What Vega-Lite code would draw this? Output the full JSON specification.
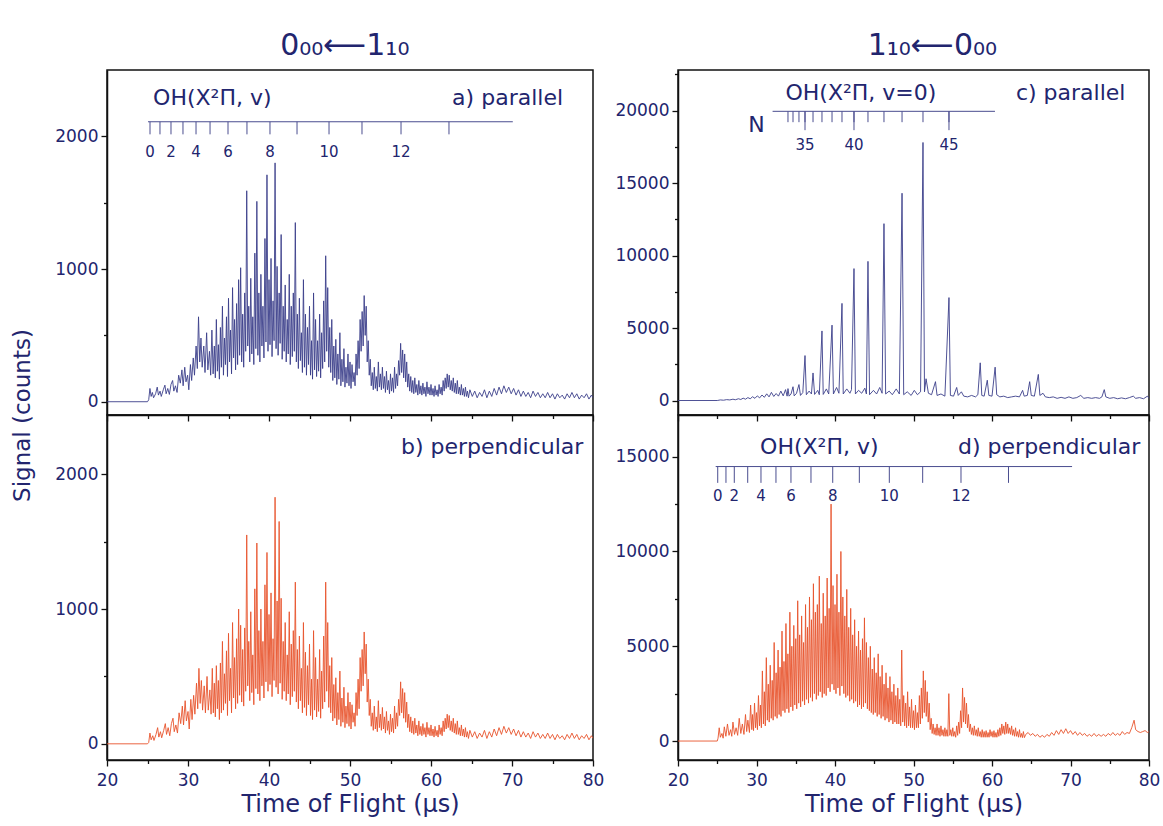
{
"$schema": "https://vega.github.io/schema/vega-lite/v6.json",
"padding": {"left": 10, "top": 31, "right": 4, "bottom": 2},
"background": "white",
"config": {
  "font": "DejaVu Sans",
  "view": {"stroke": "#111", "strokeWidth": 1.5},
  "axis": {"domainColor": "#111", "domainWidth": 1.5, "tickColor": "#111", "tickWidth": 1.3, "tickSize": 6, "labelColor": "#22256e", "titleColor": "#22256e", "labelFont": "DejaVu Sans", "titleFont": "DejaVu Sans", "labelFontSize": 17, "titleFontSize": 24, "titleFontWeight": "normal", "grid": false, "labelPadding": 3, "labelFlush": false},
  "text": {"font": "DejaVu Sans", "color": "#22256e"},
  "title": {"font": "DejaVu Sans", "color": "#22256e", "fontSize": 30, "fontWeight": "normal", "anchor": "middle", "offset": 8}
},
"datasets": {
"a": [{"t":20,"s":0},{"t":25,"s":0},{"t":25.15,"s":15},{"t":25.3,"s":100},{"t":25.45,"s":40},{"t":25.6,"s":70},{"t":25.75,"s":30},{"t":26,"s":60},{"t":26.2,"s":110},{"t":26.35,"s":50},{"t":26.55,"s":80},{"t":26.7,"s":40},{"t":26.95,"s":90},{"t":27.15,"s":125},{"t":27.3,"s":60},{"t":27.5,"s":100},{"t":27.7,"s":55},{"t":27.9,"s":130},{"t":28.1,"s":160},{"t":28.25,"s":80},{"t":28.45,"s":120},{"t":28.65,"s":70},{"t":28.85,"s":200},{"t":29.05,"s":140},{"t":29.25,"s":240},{"t":29.4,"s":120},{"t":29.6,"s":260},{"t":29.75,"s":150},{"t":29.95,"s":200},{"t":30.1,"s":90},{"t":30.3,"s":280},{"t":30.45,"s":160},{"t":30.65,"s":330},{"t":30.8,"s":200},{"t":31,"s":420},{"t":31.15,"s":250},{"t":31.3,"s":640},{"t":31.45,"s":300},{"t":31.6,"s":480},{"t":31.75,"s":260},{"t":31.95,"s":420},{"t":32.1,"s":220},{"t":32.3,"s":520},{"t":32.45,"s":240},{"t":32.65,"s":380},{"t":32.8,"s":200},{"t":32.95,"s":540},{"t":33.1,"s":210},
{"t":33.25,"s":420},{"t":33.375,"s":180},{"t":33.5,"s":620},{"t":33.625,"s":230},{"t":33.75,"s":430},{"t":33.875,"s":170},{"t":34,"s":560},{"t":34.125,"s":260},{"t":34.25,"s":720},{"t":34.375,"s":200},{"t":34.5,"s":480},{"t":34.625,"s":280},{"t":34.75,"s":640},{"t":34.875,"s":190},{"t":35,"s":780},{"t":35.125,"s":300},{"t":35.25,"s":540},{"t":35.375,"s":210},{"t":35.5,"s":860},{"t":35.625,"s":330},{"t":35.75,"s":620},{"t":35.875,"s":240},{"t":36,"s":740},{"t":36.125,"s":280},{"t":36.25,"s":920},{"t":36.375,"s":350},{"t":36.5,"s":1010},{"t":36.625,"s":300},{"t":36.75,"s":660},{"t":36.875,"s":260},{"t":37,"s":820},{"t":37.125,"s":380},{"t":37.25,"s":1590},{"t":37.375,"s":420},{"t":37.5,"s":720},{"t":37.625,"s":300},{"t":37.75,"s":930},{"t":37.875,"s":360},{"t":38,"s":640},{"t":38.125,"s":280},{"t":38.25,"s":1120},{"t":38.375,"s":400},{"t":38.5,"s":1510},{"t":38.625,"s":350},{"t":38.75,"s":820},{"t":38.875,"s":300},{"t":39,"s":960},{"t":39.125,"s":420},{"t":39.25,"s":720},{"t":39.375,"s":330},{"t":39.5,"s":1230},{"t":39.625,"s":450},{"t":39.75,"s":1710},{"t":39.875,"s":380},{"t":40,"s":920},{"t":40.125,"s":430},{"t":40.25,"s":1080},{"t":40.375,"s":340},{"t":40.5,"s":760},{"t":40.625,"s":460},{"t":40.75,"s":1800},{"t":40.875,"s":400},{"t":41,"s":1020},{"t":41.125,"s":350},{"t":41.25,"s":820},{"t":41.375,"s":440},{"t":41.5,"s":1260},{"t":41.625,"s":320},{"t":41.75,"s":720},{"t":41.875,"s":380},{"t":42,"s":880},{"t":42.125,"s":300},{"t":42.25,"s":620},{"t":42.375,"s":360},{"t":42.5,"s":960},{"t":42.625,"s":280},{"t":42.75,"s":720},{"t":42.875,"s":340},{"t":43,"s":820},{"t":43.125,"s":380},{"t":43.25,"s":1350},{"t":43.375,"s":300},{"t":43.5,"s":660},{"t":43.625,"s":250},{"t":43.75,"s":780},{"t":43.875,"s":310},{"t":44,"s":520},{"t":44.125,"s":220},{"t":44.25,"s":920},{"t":44.375,"s":260},{"t":44.5,"s":660},{"t":44.625,"s":200},{"t":44.75,"s":560},{"t":44.875,"s":280},{"t":45,"s":720},{"t":45.125,"s":200},{"t":45.25,"s":460},{"t":45.375,"s":170},{"t":45.5,"s":820},{"t":45.625,"s":240},{"t":45.75,"s":620},{"t":45.875,"s":190},{"t":46,"s":460},{"t":46.125,"s":230},{"t":46.25,"s":660},{"t":46.375,"s":180},{"t":46.5,"s":520},{"t":46.625,"s":250},{"t":46.75,"s":760},{"t":46.875,"s":300},{"t":47,"s":1100},{"t":47.125,"s":380},{"t":47.25,"s":860},{"t":47.375,"s":260},{"t":47.5,"s":560},{"t":47.625,"s":220},{"t":47.75,"s":620},{"t":47.875,"s":160},{"t":48,"s":420},{"t":48.125,"s":180},{"t":48.25,"s":470},{"t":48.375,"s":130},{"t":48.5,"s":360},{"t":48.625,"s":170},{"t":48.75,"s":520},{"t":48.875,"s":120},{"t":49,"s":320},{"t":49.125,"s":150},{"t":49.25,"s":400},{"t":49.375,"s":110},{"t":49.5,"s":260},{"t":49.625,"s":140},{"t":49.75,"s":360},{"t":49.875,"s":120},{"t":50,"s":300},{"t":50.125,"s":100},{"t":50.25,"s":280},{"t":50.375,"s":150},{"t":50.5,"s":220},{"t":50.625,"s":120},{"t":50.75,"s":360},{"t":50.875,"s":200},{"t":51,"s":460},{"t":51.125,"s":250},{"t":51.25,"s":620},{"t":51.375,"s":380},{"t":51.5,"s":680},{"t":51.625,"s":420},{"t":51.75,"s":800},{"t":51.875,"s":500},{"t":52,"s":720},{"t":52.125,"s":300},{"t":52.25,"s":460},{"t":52.375,"s":200},{"t":52.5,"s":320},{"t":52.625,"s":120},{"t":52.75,"s":220},{"t":52.875,"s":90},{"t":53,"s":260},{"t":53.125,"s":100},{"t":53.25,"s":190},{"t":53.375,"s":80},{"t":53.5,"s":300},{"t":53.625,"s":110},{"t":53.75,"s":210},{"t":53.875,"s":90},{"t":54,"s":260},{"t":54.125,"s":100},{"t":54.25,"s":190},{"t":54.375,"s":70},{"t":54.5,"s":230},{"t":54.625,"s":90},{"t":54.75,"s":160},{"t":54.875,"s":60},{"t":55,"s":210},{"t":55.125,"s":80},{"t":55.25,"s":180},{"t":55.375,"s":70},{"t":55.5,"s":260},{"t":55.625,"s":100},{"t":55.75,"s":210},{"t":55.875,"s":120},{"t":56,"s":310},{"t":56.125,"s":200},{"t":56.25,"s":440},{"t":56.375,"s":220},{"t":56.5,"s":390},{"t":56.625,"s":180},{"t":56.75,"s":360},{"t":56.875,"s":150},{"t":57,"s":300},{"t":57.125,"s":110},{"t":57.25,"s":210},{"t":57.375,"s":80},{"t":57.5,"s":190},{"t":57.625,"s":70},{"t":57.75,"s":160},{"t":57.875,"s":60},{"t":58,"s":180},{"t":58.125,"s":70},{"t":58.25,"s":130},{"t":58.375,"s":50},{"t":58.5,"s":160},{"t":58.625,"s":60},{"t":58.75,"s":120},{"t":58.875,"s":50},{"t":59,"s":140},{"t":59.125,"s":60},{"t":59.25,"s":110},{"t":59.375,"s":40},{"t":59.5,"s":150},{"t":59.625,"s":60},{"t":59.75,"s":110},{"t":59.875,"s":50},{"t":60,"s":130},{"t":60.125,"s":50},{"t":60.25,"s":100},{"t":60.375,"s":40},{"t":60.5,"s":120},{"t":60.625,"s":50},{"t":60.75,"s":90},{"t":60.875,"s":40},{"t":61,"s":130},{"t":61.125,"s":60},{"t":61.25,"s":110},{"t":61.375,"s":50},{"t":61.5,"s":160},{"t":61.625,"s":80},{"t":61.75,"s":180},{"t":61.875,"s":100},{"t":62,"s":210},{"t":62.125,"s":110},{"t":62.25,"s":200},{"t":62.375,"s":90},{"t":62.5,"s":160},{"t":62.625,"s":80},{"t":62.75,"s":180},{"t":62.875,"s":70},{"t":63,"s":140},{"t":63.125,"s":60},{"t":63.25,"s":160},{"t":63.375,"s":60},{"t":63.5,"s":110},{"t":63.625,"s":50},{"t":63.75,"s":130},{"t":63.875,"s":50},{"t":64,"s":100},{"t":64.125,"s":40},{"t":64.25,"s":110},{"t":64.375,"s":40},{"t":64.5,"s":80},{"t":64.625,"s":30},
{"t":64.8,"s":90},{"t":65.1,"s":40},{"t":65.4,"s":80},{"t":65.7,"s":30},{"t":66,"s":70},{"t":66.3,"s":40},{"t":66.6,"s":90},{"t":66.9,"s":30},{"t":67.2,"s":80},{"t":67.5,"s":40},{"t":67.8,"s":100},{"t":68.1,"s":50},{"t":68.4,"s":110},{"t":68.7,"s":60},{"t":69,"s":120},{"t":69.3,"s":70},{"t":69.6,"s":110},{"t":69.9,"s":60},{"t":70.2,"s":100},{"t":70.5,"s":50},{"t":70.8,"s":90},{"t":71.1,"s":40},{"t":71.4,"s":80},{"t":71.7,"s":40},{"t":72,"s":70},{"t":72.3,"s":30},{"t":72.6,"s":80},{"t":72.9,"s":40},{"t":73.2,"s":70},{"t":73.5,"s":30},{"t":73.8,"s":60},{"t":74.1,"s":30},{"t":74.4,"s":70},{"t":74.7,"s":30},{"t":75,"s":60},{"t":75.3,"s":20},{"t":75.6,"s":60},{"t":75.9,"s":30},{"t":76.2,"s":50},{"t":76.5,"s":20},{"t":76.8,"s":60},{"t":77.1,"s":30},{"t":77.4,"s":70},{"t":77.7,"s":30},{"t":78,"s":60},{"t":78.3,"s":20},{"t":78.6,"s":50},{"t":78.9,"s":30},{"t":79.2,"s":60},{"t":79.5,"s":20},{"t":79.8,"s":50},{"t":80,"s":30}],
"b": [{"t":20,"s":0},{"t":25,"s":0},{"t":25.15,"s":10},{"t":25.3,"s":80},{"t":25.45,"s":30},{"t":25.65,"s":60},{"t":25.8,"s":25},{"t":26.05,"s":70},{"t":26.25,"s":120},{"t":26.4,"s":50},{"t":26.6,"s":90},{"t":26.75,"s":45},{"t":27,"s":100},{"t":27.2,"s":150},{"t":27.35,"s":70},{"t":27.55,"s":120},{"t":27.75,"s":60},{"t":27.95,"s":150},{"t":28.15,"s":190},{"t":28.3,"s":90},{"t":28.5,"s":140},{"t":28.7,"s":80},{"t":28.9,"s":230},{"t":29.1,"s":150},{"t":29.3,"s":280},{"t":29.45,"s":140},{"t":29.65,"s":320},{"t":29.8,"s":170},{"t":30,"s":240},{"t":30.15,"s":110},{"t":30.35,"s":330},{"t":30.5,"s":180},{"t":30.7,"s":360},{"t":30.85,"s":220},{"t":31.05,"s":450},{"t":31.2,"s":260},{"t":31.35,"s":560},{"t":31.5,"s":300},{"t":31.65,"s":470},{"t":31.8,"s":250},{"t":32,"s":430},{"t":32.15,"s":230},{"t":32.35,"s":500},{"t":32.5,"s":250},{"t":32.7,"s":400},{"t":32.85,"s":220},{"t":33,"s":560},{"t":33.125,"s":230},
{"t":33.25,"s":450},{"t":33.375,"s":200},{"t":33.5,"s":580},{"t":33.625,"s":260},{"t":33.75,"s":470},{"t":33.875,"s":180},{"t":34,"s":600},{"t":34.125,"s":230},{"t":34.25,"s":760},{"t":34.375,"s":250},{"t":34.5,"s":520},{"t":34.625,"s":300},{"t":34.75,"s":690},{"t":34.875,"s":210},{"t":35,"s":820},{"t":35.125,"s":320},{"t":35.25,"s":560},{"t":35.375,"s":230},{"t":35.5,"s":900},{"t":35.625,"s":340},{"t":35.75,"s":640},{"t":35.875,"s":260},{"t":36,"s":780},{"t":36.125,"s":300},{"t":36.25,"s":1000},{"t":36.375,"s":360},{"t":36.5,"s":880},{"t":36.625,"s":310},{"t":36.75,"s":700},{"t":36.875,"s":280},{"t":37,"s":860},{"t":37.125,"s":390},{"t":37.25,"s":1550},{"t":37.375,"s":430},{"t":37.5,"s":760},{"t":37.625,"s":320},{"t":37.75,"s":980},{"t":37.875,"s":380},{"t":38,"s":660},{"t":38.125,"s":290},{"t":38.25,"s":1150},{"t":38.375,"s":410},{"t":38.5,"s":1490},{"t":38.625,"s":370},{"t":38.75,"s":840},{"t":38.875,"s":320},{"t":39,"s":1000},{"t":39.125,"s":430},{"t":39.25,"s":760},{"t":39.375,"s":340},{"t":39.5,"s":1180},{"t":39.625,"s":460},{"t":39.75,"s":1420},{"t":39.875,"s":390},{"t":40,"s":960},{"t":40.125,"s":440},{"t":40.25,"s":1120},{"t":40.375,"s":350},{"t":40.5,"s":780},{"t":40.625,"s":470},{"t":40.75,"s":1830},{"t":40.875,"s":420},{"t":41,"s":1060},{"t":41.125,"s":370},{"t":41.25,"s":1650},{"t":41.375,"s":450},{"t":41.5,"s":1080},{"t":41.625,"s":330},{"t":41.75,"s":760},{"t":41.875,"s":390},{"t":42,"s":900},{"t":42.125,"s":320},{"t":42.25,"s":660},{"t":42.375,"s":370},{"t":42.5,"s":980},{"t":42.625,"s":290},{"t":42.75,"s":740},{"t":42.875,"s":350},{"t":43,"s":840},{"t":43.125,"s":390},{"t":43.25,"s":1200},{"t":43.375,"s":310},{"t":43.5,"s":700},{"t":43.625,"s":260},{"t":43.75,"s":800},{"t":43.875,"s":320},{"t":44,"s":560},{"t":44.125,"s":230},{"t":44.25,"s":900},{"t":44.375,"s":270},{"t":44.5,"s":680},{"t":44.625,"s":210},{"t":44.75,"s":580},{"t":44.875,"s":290},{"t":45,"s":740},{"t":45.125,"s":210},{"t":45.25,"s":480},{"t":45.375,"s":180},{"t":45.5,"s":840},{"t":45.625,"s":250},{"t":45.75,"s":640},{"t":45.875,"s":200},{"t":46,"s":480},{"t":46.125,"s":240},{"t":46.25,"s":700},{"t":46.375,"s":190},{"t":46.5,"s":540},{"t":46.625,"s":260},{"t":46.75,"s":800},{"t":46.875,"s":310},{"t":47,"s":1200},{"t":47.125,"s":390},{"t":47.25,"s":900},{"t":47.375,"s":270},{"t":47.5,"s":580},{"t":47.625,"s":230},{"t":47.75,"s":640},{"t":47.875,"s":170},{"t":48,"s":440},{"t":48.125,"s":190},{"t":48.25,"s":490},{"t":48.375,"s":140},{"t":48.5,"s":380},{"t":48.625,"s":180},{"t":48.75,"s":540},{"t":48.875,"s":130},{"t":49,"s":340},{"t":49.125,"s":160},{"t":49.25,"s":420},{"t":49.375,"s":120},{"t":49.5,"s":280},{"t":49.625,"s":150},{"t":49.75,"s":380},{"t":49.875,"s":130},{"t":50,"s":310},{"t":50.125,"s":110},{"t":50.25,"s":290},{"t":50.375,"s":160},{"t":50.5,"s":230},{"t":50.625,"s":130},{"t":50.75,"s":380},{"t":50.875,"s":210},{"t":51,"s":480},{"t":51.125,"s":260},{"t":51.25,"s":640},{"t":51.375,"s":390},{"t":51.5,"s":700},{"t":51.625,"s":430},{"t":51.75,"s":830},{"t":51.875,"s":520},{"t":52,"s":740},{"t":52.125,"s":310},{"t":52.25,"s":480},{"t":52.375,"s":210},{"t":52.5,"s":330},{"t":52.625,"s":130},{"t":52.75,"s":230},{"t":52.875,"s":100},{"t":53,"s":280},{"t":53.125,"s":110},{"t":53.25,"s":200},{"t":53.375,"s":90},{"t":53.5,"s":320},{"t":53.625,"s":120},{"t":53.75,"s":220},{"t":53.875,"s":100},{"t":54,"s":270},{"t":54.125,"s":110},{"t":54.25,"s":200},{"t":54.375,"s":80},{"t":54.5,"s":240},{"t":54.625,"s":100},{"t":54.75,"s":170},{"t":54.875,"s":70},{"t":55,"s":220},{"t":55.125,"s":90},{"t":55.25,"s":190},{"t":55.375,"s":80},{"t":55.5,"s":280},{"t":55.625,"s":110},{"t":55.75,"s":230},{"t":55.875,"s":130},{"t":56,"s":330},{"t":56.125,"s":210},{"t":56.25,"s":460},{"t":56.375,"s":230},{"t":56.5,"s":410},{"t":56.625,"s":190},{"t":56.75,"s":380},{"t":56.875,"s":160},{"t":57,"s":310},{"t":57.125,"s":120},{"t":57.25,"s":220},{"t":57.375,"s":90},{"t":57.5,"s":200},{"t":57.625,"s":80},{"t":57.75,"s":170},{"t":57.875,"s":70},{"t":58,"s":190},{"t":58.125,"s":80},{"t":58.25,"s":140},{"t":58.375,"s":60},{"t":58.5,"s":170},{"t":58.625,"s":70},{"t":58.75,"s":130},{"t":58.875,"s":60},{"t":59,"s":150},{"t":59.125,"s":70},{"t":59.25,"s":120},{"t":59.375,"s":50},{"t":59.5,"s":160},{"t":59.625,"s":70},{"t":59.75,"s":120},{"t":59.875,"s":60},{"t":60,"s":140},{"t":60.125,"s":60},{"t":60.25,"s":110},{"t":60.375,"s":50},{"t":60.5,"s":130},{"t":60.625,"s":60},{"t":60.75,"s":100},{"t":60.875,"s":50},{"t":61,"s":140},{"t":61.125,"s":70},{"t":61.25,"s":120},{"t":61.375,"s":60},{"t":61.5,"s":170},{"t":61.625,"s":90},{"t":61.75,"s":190},{"t":61.875,"s":110},{"t":62,"s":220},{"t":62.125,"s":120},{"t":62.25,"s":210},{"t":62.375,"s":100},{"t":62.5,"s":170},{"t":62.625,"s":90},{"t":62.75,"s":190},{"t":62.875,"s":80},{"t":63,"s":150},{"t":63.125,"s":70},{"t":63.25,"s":170},{"t":63.375,"s":70},{"t":63.5,"s":120},{"t":63.625,"s":60},{"t":63.75,"s":140},{"t":63.875,"s":60},{"t":64,"s":110},{"t":64.125,"s":50},{"t":64.25,"s":120},{"t":64.375,"s":50},{"t":64.5,"s":90},{"t":64.625,"s":40},
{"t":64.8,"s":100},{"t":65.1,"s":50},{"t":65.4,"s":90},{"t":65.7,"s":40},{"t":66,"s":80},{"t":66.3,"s":50},{"t":66.6,"s":100},{"t":66.9,"s":40},{"t":67.2,"s":90},{"t":67.5,"s":50},{"t":67.8,"s":110},{"t":68.1,"s":60},{"t":68.4,"s":120},{"t":68.7,"s":70},{"t":69,"s":130},{"t":69.3,"s":80},{"t":69.6,"s":120},{"t":69.9,"s":70},{"t":70.2,"s":110},{"t":70.5,"s":60},{"t":70.8,"s":100},{"t":71.1,"s":50},{"t":71.4,"s":90},{"t":71.7,"s":50},{"t":72,"s":80},{"t":72.3,"s":40},{"t":72.6,"s":90},{"t":72.9,"s":50},{"t":73.2,"s":80},{"t":73.5,"s":40},{"t":73.8,"s":70},{"t":74.1,"s":40},{"t":74.4,"s":80},{"t":74.7,"s":40},{"t":75,"s":70},{"t":75.3,"s":30},{"t":75.6,"s":70},{"t":75.9,"s":40},{"t":76.2,"s":60},{"t":76.5,"s":30},{"t":76.8,"s":70},{"t":77.1,"s":40},{"t":77.4,"s":80},{"t":77.7,"s":40},{"t":78,"s":70},{"t":78.3,"s":30},{"t":78.6,"s":60},{"t":78.9,"s":40},{"t":79.2,"s":70},{"t":79.5,"s":30},{"t":79.8,"s":60},{"t":80,"s":40}],
"c": [{"t":20,"s":0},{"t":25,"s":0},{"t":25.4,"s":40},{"t":25.8,"s":20},{"t":26.2,"s":60},{"t":26.6,"s":40},{"t":27,"s":90},{"t":27.3,"s":50},{"t":27.7,"s":120},{"t":28,"s":70},{"t":28.3,"s":160},{"t":28.6,"s":90},{"t":28.9,"s":200},{"t":29.2,"s":120},{"t":29.5,"s":260},{"t":29.8,"s":150},{"t":30.1,"s":320},{"t":30.4,"s":180},{"t":30.7,"s":380},{"t":31,"s":220},{"t":31.3,"s":460},{"t":31.6,"s":250},{"t":31.9,"s":560},{"t":32.2,"s":280},{"t":32.5,"s":480},{"t":32.8,"s":300},{"t":33.1,"s":650},{"t":33.4,"s":320},{"t":33.7,"s":750},{"t":33.9,"s":300},{"t":34.01,"s":820},{"t":34.15,"s":300},{"t":34.4,"s":450},{"t":34.65,"s":950},{"t":34.8,"s":320},{"t":35.1,"s":500},{"t":35.41,"s":1100},{"t":35.6,"s":350},{"t":35.9,"s":550},{"t":36.18,"s":3100},{"t":36.35,"s":400},{"t":36.7,"s":650},{"t":37,"s":450},{"t":37.2,"s":1900},{"t":37.4,"s":420},{"t":37.8,"s":700},{"t":38,"s":400},{"t":38.34,"s":4800},{"t":38.5,"s":420},{"t":38.9,"s":800},{"t":39.2,"s":450},{"t":39.62,"s":5200},{"t":39.8,"s":450},{"t":40.2,"s":900},{"t":40.5,"s":500},{"t":40.89,"s":6700},{"t":41.05,"s":450},{"t":41.5,"s":800},{"t":41.9,"s":500},{"t":42.1,"s":750},{"t":42.42,"s":9100},{"t":42.6,"s":450},{"t":43,"s":700},{"t":43.4,"s":500},{"t":43.8,"s":850},{"t":44,"s":450},{"t":44.2,"s":9600},{"t":44.4,"s":400},{"t":44.9,"s":700},{"t":45.3,"s":450},{"t":45.7,"s":900},{"t":46,"s":500},{"t":46.24,"s":12200},{"t":46.45,"s":450},{"t":46.9,"s":650},{"t":47.3,"s":400},{"t":47.8,"s":800},{"t":48.2,"s":450},{"t":48.54,"s":14300},{"t":48.75,"s":400},{"t":49.2,"s":600},{"t":49.7,"s":350},{"t":50.1,"s":700},{"t":50.5,"s":400},{"t":50.9,"s":600},{"t":51.21,"s":17800},{"t":51.4,"s":600},{"t":51.6,"s":1500},{"t":51.9,"s":500},{"t":52.3,"s":400},{"t":52.8,"s":1300},{"t":53,"s":350},{"t":53.5,"s":450},{"t":54,"s":300},{"t":54.52,"s":7100},{"t":54.7,"s":350},{"t":55.1,"s":300},{"t":55.5,"s":900},{"t":55.7,"s":350},{"t":56.1,"s":600},{"t":56.4,"s":300},{"t":56.9,"s":250},{"t":57.4,"s":350},{"t":57.9,"s":250},{"t":58.2,"s":400},{"t":58.5,"s":2600},{"t":58.7,"s":350},{"t":59,"s":300},{"t":59.4,"s":1400},{"t":59.6,"s":350},{"t":60,"s":300},{"t":60.4,"s":2300},{"t":60.6,"s":400},{"t":61,"s":250},{"t":61.5,"s":300},{"t":62,"s":200},{"t":62.5,"s":250},{"t":63,"s":300},{"t":63.5,"s":250},{"t":63.9,"s":700},{"t":64.1,"s":300},{"t":64.5,"s":350},{"t":64.8,"s":1300},{"t":65,"s":350},{"t":65.4,"s":300},{"t":65.9,"s":1800},{"t":66.1,"s":350},{"t":66.5,"s":500},{"t":66.8,"s":250},{"t":67.3,"s":200},{"t":67.8,"s":250},{"t":68.3,"s":150},{"t":68.8,"s":220},{"t":69.3,"s":150},{"t":69.8,"s":250},{"t":70.3,"s":150},{"t":70.8,"s":200},{"t":71.3,"s":350},{"t":71.7,"s":150},{"t":72.2,"s":200},{"t":72.7,"s":150},{"t":73.2,"s":200},{"t":73.7,"s":150},{"t":74,"s":250},{"t":74.3,"s":750},{"t":74.5,"s":250},{"t":75,"s":150},{"t":75.5,"s":200},{"t":76,"s":120},{"t":76.5,"s":180},{"t":77,"s":120},{"t":77.5,"s":200},{"t":78,"s":300},{"t":78.3,"s":150},{"t":78.8,"s":200},{"t":79.3,"s":120},{"t":79.8,"s":300},{"t":80,"s":150}],
"d": [{"t":20,"s":0},{"t":25,"s":0},{"t":25.1,"s":150},{"t":25.25,"s":700},{"t":25.4,"s":200},{"t":25.6,"s":400},{"t":25.75,"s":150},{"t":25.9,"s":750},{"t":26.1,"s":250},{"t":26.3,"s":900},{"t":26.5,"s":300},{"t":26.7,"s":600},{"t":26.85,"s":250},{"t":27,"s":1000},{"t":27.2,"s":350},{"t":27.4,"s":700},{"t":27.6,"s":300},{"t":27.8,"s":1200},{"t":28,"s":400},{"t":28.2,"s":900},{"t":28.4,"s":350},{"t":28.6,"s":1400},{"t":28.75,"s":500},{"t":28.9,"s":1100},{"t":29.1,"s":450},{"t":29.25,"s":1900},{"t":29.4,"s":600},{"t":29.5,"s":1400},{"t":29.62,"s":550},{"t":29.75,"s":2000},{"t":29.88,"s":700},{"t":30,"s":1500},{"t":30.12,"s":600},{"t":30.25,"s":2400},{"t":30.38,"s":800},{"t":30.5,"s":1900},{"t":30.62,"s":700},{"t":30.75,"s":3700},{"t":30.88,"s":900},{"t":31,"s":2600},{"t":31.12,"s":800},{"t":31.25,"s":4400},{"t":31.38,"s":1100},{"t":31.5,"s":3000},{"t":31.62,"s":1000},{"t":31.75,"s":4000},{"t":31.88,"s":1200},{"t":32,"s":3200},{"t":32.12,"s":1100},{"t":32.25,"s":5200},{"t":32.38,"s":1300},{"t":32.5,"s":3600},{"t":32.62,"s":1200},{"t":32.75,"s":4800},{"t":32.88,"s":1400},{"t":33,"s":3900},{"t":33.12,"s":1300},
{"t":33.25,"s":5800},{"t":33.375,"s":1600},{"t":33.5,"s":4200},{"t":33.625,"s":1500},{"t":33.75,"s":6200},{"t":33.875,"s":1700},{"t":34,"s":4600},{"t":34.125,"s":1500},{"t":34.25,"s":6800},{"t":34.375,"s":1800},{"t":34.5,"s":5000},{"t":34.625,"s":1600},{"t":34.75,"s":6100},{"t":34.875,"s":1900},{"t":35,"s":5400},{"t":35.125,"s":1700},{"t":35.25,"s":7400},{"t":35.375,"s":2000},{"t":35.5,"s":5600},{"t":35.625,"s":1800},{"t":35.75,"s":6600},{"t":35.875,"s":2100},{"t":36,"s":5200},{"t":36.125,"s":1900},{"t":36.25,"s":7200},{"t":36.375,"s":2200},{"t":36.5,"s":6000},{"t":36.625,"s":2000},{"t":36.75,"s":7600},{"t":36.875,"s":2300},{"t":37,"s":6400},{"t":37.125,"s":2100},{"t":37.25,"s":8300},{"t":37.375,"s":2500},{"t":37.5,"s":6800},{"t":37.625,"s":2200},{"t":37.75,"s":7200},{"t":37.875,"s":2400},{"t":38,"s":8700},{"t":38.125,"s":2600},{"t":38.25,"s":6200},{"t":38.375,"s":2300},{"t":38.5,"s":7800},{"t":38.625,"s":2500},{"t":38.75,"s":6600},{"t":38.875,"s":2400},{"t":39,"s":8600},{"t":39.125,"s":2800},{"t":39.25,"s":7000},{"t":39.375,"s":2600},{"t":39.5,"s":12500},{"t":39.625,"s":3000},{"t":39.75,"s":8200},{"t":39.875,"s":2700},{"t":40,"s":7200},{"t":40.125,"s":2500},{"t":40.25,"s":8800},{"t":40.375,"s":2800},{"t":40.5,"s":6800},{"t":40.625,"s":2400},{"t":40.75,"s":10000},{"t":40.875,"s":2900},{"t":41,"s":7600},{"t":41.125,"s":2500},{"t":41.25,"s":6600},{"t":41.375,"s":2300},{"t":41.5,"s":8000},{"t":41.625,"s":2400},{"t":41.75,"s":6000},{"t":41.875,"s":2100},{"t":42,"s":7000},{"t":42.125,"s":2200},{"t":42.25,"s":5600},{"t":42.375,"s":2000},{"t":42.5,"s":6400},{"t":42.625,"s":2100},{"t":42.75,"s":5000},{"t":42.875,"s":1800},{"t":43,"s":5800},{"t":43.125,"s":1900},{"t":43.25,"s":4800},{"t":43.375,"s":1700},{"t":43.5,"s":5400},{"t":43.625,"s":1800},{"t":43.75,"s":6500},{"t":43.875,"s":2000},{"t":44,"s":5200},{"t":44.125,"s":1700},{"t":44.25,"s":4400},{"t":44.375,"s":1600},{"t":44.5,"s":5000},{"t":44.625,"s":1500},{"t":44.75,"s":3800},{"t":44.875,"s":1400},{"t":45,"s":4400},{"t":45.125,"s":1500},{"t":45.25,"s":3600},{"t":45.375,"s":1300},{"t":45.5,"s":4600},{"t":45.625,"s":1400},{"t":45.75,"s":3400},{"t":45.875,"s":1200},{"t":46,"s":4000},{"t":46.125,"s":1300},{"t":46.25,"s":3000},{"t":46.375,"s":1100},{"t":46.5,"s":3600},{"t":46.625,"s":1200},{"t":46.75,"s":2800},{"t":46.875,"s":1000},{"t":47,"s":3400},{"t":47.125,"s":1100},{"t":47.25,"s":2600},{"t":47.375,"s":900},{"t":47.5,"s":3000},{"t":47.625,"s":1000},{"t":47.75,"s":2400},{"t":47.875,"s":900},{"t":48,"s":2800},{"t":48.125,"s":900},{"t":48.25,"s":2200},{"t":48.375,"s":800},{"t":48.5,"s":4800},{"t":48.625,"s":1000},{"t":48.75,"s":2400},{"t":48.875,"s":800},{"t":49,"s":2000},{"t":49.125,"s":700},{"t":49.25,"s":2600},{"t":49.375,"s":800},{"t":49.5,"s":1800},{"t":49.625,"s":700},{"t":49.75,"s":2200},{"t":49.875,"s":700},{"t":50,"s":1600},{"t":50.125,"s":600},{"t":50.25,"s":1900},{"t":50.375,"s":700},{"t":50.5,"s":1500},{"t":50.625,"s":700},{"t":50.75,"s":2400},{"t":50.875,"s":900},{"t":51,"s":2800},{"t":51.125,"s":1200},{"t":51.25,"s":3700},{"t":51.375,"s":1500},{"t":51.5,"s":3200},{"t":51.625,"s":1300},{"t":51.75,"s":2600},{"t":51.875,"s":1000},{"t":52,"s":2000},{"t":52.125,"s":600},{"t":52.25,"s":1200},{"t":52.375,"s":400},{"t":52.5,"s":900},{"t":52.625,"s":350},{"t":52.75,"s":700},{"t":52.875,"s":300},{"t":53,"s":900},{"t":53.125,"s":300},{"t":53.25,"s":700},{"t":53.375,"s":250},{"t":53.5,"s":800},{"t":53.625,"s":300},{"t":53.75,"s":600},{"t":53.875,"s":250},{"t":54,"s":700},{"t":54.125,"s":250},{"t":54.25,"s":600},{"t":54.375,"s":250},{"t":54.5,"s":2500},{"t":54.625,"s":300},{"t":54.75,"s":600},{"t":54.875,"s":250},{"t":55,"s":700},{"t":55.125,"s":250},{"t":55.25,"s":500},{"t":55.375,"s":200},{"t":55.5,"s":800},{"t":55.625,"s":300},{"t":55.75,"s":1000},{"t":55.875,"s":400},{"t":56,"s":1600},{"t":56.125,"s":700},{"t":56.25,"s":2800},{"t":56.375,"s":1000},{"t":56.5,"s":2300},{"t":56.625,"s":900},{"t":56.75,"s":2000},{"t":56.875,"s":700},{"t":57,"s":1400},{"t":57.125,"s":500},{"t":57.25,"s":900},{"t":57.375,"s":350},{"t":57.5,"s":700},{"t":57.625,"s":300},{"t":57.75,"s":800},{"t":57.875,"s":300},{"t":58,"s":600},{"t":58.125,"s":250},{"t":58.25,"s":700},{"t":58.375,"s":250},{"t":58.5,"s":500},{"t":58.625,"s":200},{"t":58.75,"s":600},{"t":58.875,"s":200},{"t":59,"s":500},{"t":59.125,"s":200},{"t":59.25,"s":550},{"t":59.375,"s":200},{"t":59.5,"s":450},{"t":59.625,"s":200},{"t":59.75,"s":600},{"t":59.875,"s":250},{"t":60,"s":500},{"t":60.125,"s":200},{"t":60.25,"s":550},{"t":60.375,"s":200},{"t":60.5,"s":450},{"t":60.625,"s":200},{"t":60.75,"s":600},{"t":60.875,"s":250},{"t":61,"s":700},{"t":61.125,"s":300},{"t":61.25,"s":900},{"t":61.375,"s":400},{"t":61.5,"s":800},{"t":61.625,"s":350},{"t":61.75,"s":1000},{"t":61.875,"s":400},{"t":62,"s":900},{"t":62.125,"s":400},{"t":62.25,"s":700},{"t":62.375,"s":350},{"t":62.5,"s":800},{"t":62.625,"s":300},{"t":62.75,"s":600},{"t":62.875,"s":250},{"t":63,"s":700},{"t":63.125,"s":250},{"t":63.25,"s":500},{"t":63.375,"s":200},{"t":63.5,"s":600},{"t":63.625,"s":200},{"t":63.75,"s":400},{"t":63.875,"s":180},{"t":64,"s":500},{"t":64.125,"s":180},
{"t":64.3,"s":350},{"t":64.6,"s":450},{"t":64.9,"s":300},{"t":65.2,"s":400},{"t":65.5,"s":250},{"t":65.8,"s":350},{"t":66.1,"s":200},{"t":66.4,"s":300},{"t":66.7,"s":200},{"t":67,"s":350},{"t":67.3,"s":250},{"t":67.6,"s":450},{"t":67.9,"s":300},{"t":68.2,"s":550},{"t":68.5,"s":350},{"t":68.8,"s":600},{"t":69.1,"s":400},{"t":69.4,"s":650},{"t":69.7,"s":400},{"t":70,"s":550},{"t":70.3,"s":350},{"t":70.6,"s":500},{"t":70.9,"s":300},{"t":71.2,"s":450},{"t":71.5,"s":300},{"t":71.8,"s":400},{"t":72.1,"s":250},{"t":72.4,"s":350},{"t":72.7,"s":250},{"t":73,"s":400},{"t":73.3,"s":250},{"t":73.6,"s":350},{"t":73.9,"s":250},{"t":74.2,"s":350},{"t":74.5,"s":250},{"t":74.8,"s":400},{"t":75.1,"s":300},{"t":75.4,"s":450},{"t":75.7,"s":300},{"t":76,"s":400},{"t":76.3,"s":300},{"t":76.6,"s":500},{"t":76.9,"s":350},{"t":77.2,"s":450},{"t":77.5,"s":400},{"t":77.8,"s":700},{"t":78.1,"s":1100},{"t":78.3,"s":600},{"t":78.6,"s":500},{"t":78.9,"s":450},{"t":79.2,"s":500},{"t":79.5,"s":550},{"t":79.8,"s":450},{"t":80,"s":500}],
"ladderA": [{"v":0,"t":25.31},{"v":1,"t":26.54},{"v":2,"t":27.9},{"v":3,"t":29.38},{"v":4,"t":30.99},{"v":5,"t":32.72},{"v":6,"t":34.94},{"v":7,"t":37.28},{"v":8,"t":40.12},{"v":9,"t":43.46},{"v":10,"t":47.41},{"v":11,"t":51.48},{"v":12,"t":56.3},{"v":13,"t":62.22}],
"ladderD": [{"v":0,"t":25.06},{"v":1,"t":26.11},{"v":2,"t":27.17},{"v":3,"t":28.88},{"v":4,"t":30.57},{"v":5,"t":32.48},{"v":6,"t":34.39},{"v":7,"t":36.94},{"v":8,"t":39.71},{"v":9,"t":43.1},{"v":10,"t":46.92},{"v":11,"t":51.17},{"v":12,"t":56.05},{"v":13,"t":62.1}],
"ladderC": [{"n":32,"t":34.01},{"n":33,"t":34.65},{"n":34,"t":35.41},{"n":35,"t":36.18},{"n":36,"t":37.2},{"n":37,"t":38.34},{"n":38,"t":39.62},{"n":39,"t":40.89},{"n":40,"t":42.42},{"n":41,"t":44.2},{"n":42,"t":46.24},{"n":43,"t":48.54},{"n":44,"t":51.21},{"n":45,"t":54.52}]
},
"hconcat": [
{
 "title": {"text": "0₀₀⟵1₁₀", "dx": 37},
 "spacing": 0,
 "bounds": "flush",
 "vconcat": [
  {
   "width": 486, "height": 345,
   "resolve": {"axis": {"x": "independent", "y": "independent"}},
   "layer": [
    {"data": {"name": "a"}, "mark": {"type": "line", "color": "#3b3e8a", "strokeWidth": 0.9, "clip": true},
     "encoding": {
      "x": {"field": "t", "type": "quantitative", "scale": {"domain": [20, 80], "nice": false}, "axis": {"values": [20,30,40,50,60,70,80], "labels": false, "title": null, "orient": "bottom"}},
      "y": {"field": "s", "type": "quantitative", "scale": {"domain": [-100, 2500], "nice": false, "zero": false}, "axis": {"values": [0,1000,2000], "format": "d", "title": "Signal (counts)", "titleY": 345, "titleFontSize": 23, "titlePadding": 20, "orient": "left"}}
     }},
    {"data": {"values": [{}]}, "mark": {"type": "point", "opacity": 0},
     "encoding": {"x": {"datum": 50, "type": "quantitative", "axis": {"values": [25,35,45,55,65,75], "labels": false, "domain": false, "tickSize": 3.5, "title": null, "orient": "bottom"}}, "y": {"datum": 0, "type": "quantitative", "axis": {"values": [500,1500], "labels": false, "domain": false, "tickSize": 3.5, "title": null, "orient": "left"}}}},
    {"data": {"name": "ladderA"}, "mark": {"type": "rule", "color": "#4a4d8f", "strokeWidth": 1},
     "encoding": {"x": {"field": "t", "type": "quantitative", "axis": null}, "y": {"datum": 2110, "axis": null}, "y2": {"datum": 2015}}},
    {"data": {"values": [{}]}, "mark": {"type": "rule", "color": "#4a4d8f", "strokeWidth": 1},
     "encoding": {"x": {"datum": 25.06, "axis": null}, "x2": {"datum": 70.1}, "y": {"datum": 2110, "axis": null}}},
    {"data": {"name": "ladderA"}, "transform": [{"filter": "datum.v % 2 === 0 && datum.v <= 12"}], "mark": {"type": "text", "fontSize": 15, "baseline": "middle", "align": "center"},
     "encoding": {"x": {"field": "t", "type": "quantitative", "axis": null}, "y": {"datum": 1885, "axis": null}, "text": {"field": "v"}}},
    {"data": {"values": [{}]}, "mark": {"type": "text", "fontSize": 22, "align": "center", "baseline": "middle", "text": "OH(X²Π, v)"},
     "encoding": {"x": {"datum": 33.0, "axis": null}, "y": {"datum": 2290, "axis": null}}},
    {"data": {"values": [{}]}, "mark": {"type": "text", "fontSize": 22, "align": "right", "baseline": "middle", "text": "a) parallel"},
     "encoding": {"x": {"datum": 76.3, "axis": null}, "y": {"datum": 2290, "axis": null}}}
   ]
  },
  {
   "width": 486, "height": 345,
   "resolve": {"axis": {"x": "independent", "y": "independent"}},
   "layer": [
    {"data": {"name": "b"}, "mark": {"type": "line", "color": "#e8542c", "strokeWidth": 0.9, "clip": true},
     "encoding": {
      "x": {"field": "t", "type": "quantitative", "scale": {"domain": [20, 80], "nice": false}, "axis": {"values": [20,30,40,50,60,70,80], "labelPadding": 6, "title": "Time of Flight (μs)", "titlePadding": 4, "orient": "bottom"}},
      "y": {"field": "s", "type": "quantitative", "scale": {"domain": [-120, 2440], "nice": false, "zero": false}, "axis": {"values": [0,1000,2000], "format": "d", "title": null, "orient": "left"}}
     }},
    {"data": {"values": [{}]}, "mark": {"type": "point", "opacity": 0},
     "encoding": {"x": {"datum": 50, "type": "quantitative", "axis": {"values": [25,35,45,55,65,75], "labels": false, "domain": false, "tickSize": 3.5, "title": null, "orient": "bottom"}}, "y": {"datum": 0, "type": "quantitative", "axis": {"values": [500,1500], "labels": false, "domain": false, "tickSize": 3.5, "title": null, "orient": "left"}}}},
    {"data": {"values": [{}]}, "mark": {"type": "text", "fontSize": 22, "align": "right", "baseline": "middle", "text": "b) perpendicular"},
     "encoding": {"x": {"datum": 78.8, "axis": null}, "y": {"datum": 2200, "axis": null}}}
   ]
  }
 ]
},
{
 "title": {"text": "1₁₀⟵0₀₀", "dx": 45},
 "spacing": 0,
 "bounds": "flush",
 "vconcat": [
  {
   "width": 471, "height": 345,
   "resolve": {"axis": {"x": "independent", "y": "independent"}},
   "layer": [
    {"data": {"name": "c"}, "mark": {"type": "line", "color": "#3b3e8a", "strokeWidth": 0.9, "clip": true},
     "encoding": {
      "x": {"field": "t", "type": "quantitative", "scale": {"domain": [20, 80], "nice": false}, "axis": {"values": [20,30,40,50,60,70,80], "labels": false, "title": null, "orient": "bottom"}},
      "y": {"field": "s", "type": "quantitative", "scale": {"domain": [-1000, 22800], "nice": false, "zero": false}, "axis": {"values": [0,5000,10000,15000,20000], "format": "d", "title": null, "orient": "left"}}
     }},
    {"data": {"values": [{}]}, "mark": {"type": "point", "opacity": 0},
     "encoding": {"x": {"datum": 50, "type": "quantitative", "axis": {"values": [25,35,45,55,65,75], "labels": false, "domain": false, "tickSize": 3.5, "title": null, "orient": "bottom"}}, "y": {"datum": 0, "type": "quantitative", "axis": {"values": [2500,7500,12500,17500,22500], "labels": false, "domain": false, "tickSize": 3.5, "title": null, "orient": "left"}}}},
    {"data": {"name": "ladderC"}, "mark": {"type": "rule", "color": "#4a4d8f", "strokeWidth": 1},
     "encoding": {"x": {"field": "t", "type": "quantitative", "axis": null}, "y": {"datum": 19950, "axis": null}, "y2": {"datum": 19200}}},
    {"data": {"name": "ladderC"}, "transform": [{"filter": "datum.n % 5 === 0"}], "mark": {"type": "rule", "color": "#4a4d8f", "strokeWidth": 1},
     "encoding": {"x": {"field": "t", "type": "quantitative", "axis": null}, "y": {"datum": 19950, "axis": null}, "y2": {"datum": 18650}}},
    {"data": {"values": [{}]}, "mark": {"type": "rule", "color": "#4a4d8f", "strokeWidth": 1},
     "encoding": {"x": {"datum": 32.05, "axis": null}, "x2": {"datum": 60.38}, "y": {"datum": 19950, "axis": null}}},
    {"data": {"name": "ladderC"}, "transform": [{"filter": "datum.n % 5 === 0"}], "mark": {"type": "text", "fontSize": 15, "baseline": "middle", "align": "center"},
     "encoding": {"x": {"field": "t", "type": "quantitative", "axis": null}, "y": {"datum": 17600, "axis": null}, "text": {"field": "n"}}},
    {"data": {"values": [{}]}, "mark": {"type": "text", "fontSize": 22, "align": "center", "baseline": "middle", "text": "N"},
     "encoding": {"x": {"datum": 30.0, "axis": null}, "y": {"datum": 19000, "axis": null}}},
    {"data": {"values": [{}]}, "mark": {"type": "text", "fontSize": 22, "align": "center", "baseline": "middle", "text": "OH(X²Π, v=0)"},
     "encoding": {"x": {"datum": 43.3, "axis": null}, "y": {"datum": 21200, "axis": null}}},
    {"data": {"values": [{}]}, "mark": {"type": "text", "fontSize": 22, "align": "right", "baseline": "middle", "text": "c) parallel"},
     "encoding": {"x": {"datum": 77.0, "axis": null}, "y": {"datum": 21200, "axis": null}}}
   ]
  },
  {
   "width": 471, "height": 345,
   "resolve": {"axis": {"x": "independent", "y": "independent"}},
   "layer": [
    {"data": {"name": "d"}, "mark": {"type": "line", "color": "#e8542c", "strokeWidth": 0.9, "clip": true},
     "encoding": {
      "x": {"field": "t", "type": "quantitative", "scale": {"domain": [20, 80], "nice": false}, "axis": {"values": [20,30,40,50,60,70,80], "labelPadding": 6, "title": "Time of Flight (μs)", "titlePadding": 4, "orient": "bottom"}},
      "y": {"field": "s", "type": "quantitative", "scale": {"domain": [-1000, 17200], "nice": false, "zero": false}, "axis": {"values": [0,5000,10000,15000], "format": "d", "title": null, "orient": "left"}}
     }},
    {"data": {"values": [{}]}, "mark": {"type": "point", "opacity": 0},
     "encoding": {"x": {"datum": 50, "type": "quantitative", "axis": {"values": [25,35,45,55,65,75], "labels": false, "domain": false, "tickSize": 3.5, "title": null, "orient": "bottom"}}, "y": {"datum": 0, "type": "quantitative", "axis": {"values": [2500,7500,12500], "labels": false, "domain": false, "tickSize": 3.5, "title": null, "orient": "left"}}}},
    {"data": {"name": "ladderD"}, "mark": {"type": "rule", "color": "#4a4d8f", "strokeWidth": 1},
     "encoding": {"x": {"field": "t", "type": "quantitative", "axis": null}, "y": {"datum": 14480, "axis": null}, "y2": {"datum": 13620}}},
    {"data": {"values": [{}]}, "mark": {"type": "rule", "color": "#4a4d8f", "strokeWidth": 1},
     "encoding": {"x": {"datum": 24.8, "axis": null}, "x2": {"datum": 70.2}, "y": {"datum": 14480, "axis": null}}},
    {"data": {"name": "ladderD"}, "transform": [{"filter": "datum.v % 2 === 0 && datum.v <= 12"}], "mark": {"type": "text", "fontSize": 15, "baseline": "middle", "align": "center"},
     "encoding": {"x": {"field": "t", "type": "quantitative", "axis": null}, "y": {"datum": 12930, "axis": null}, "text": {"field": "v"}}},
    {"data": {"values": [{}]}, "mark": {"type": "text", "fontSize": 22, "align": "center", "baseline": "middle", "text": "OH(X²Π, v)"},
     "encoding": {"x": {"datum": 38.0, "axis": null}, "y": {"datum": 15500, "axis": null}}},
    {"data": {"values": [{}]}, "mark": {"type": "text", "fontSize": 22, "align": "right", "baseline": "middle", "text": "d) perpendicular"},
     "encoding": {"x": {"datum": 78.9, "axis": null}, "y": {"datum": 15500, "axis": null}}}
   ]
  }
 ]
}
],
"spacing": 9
}
